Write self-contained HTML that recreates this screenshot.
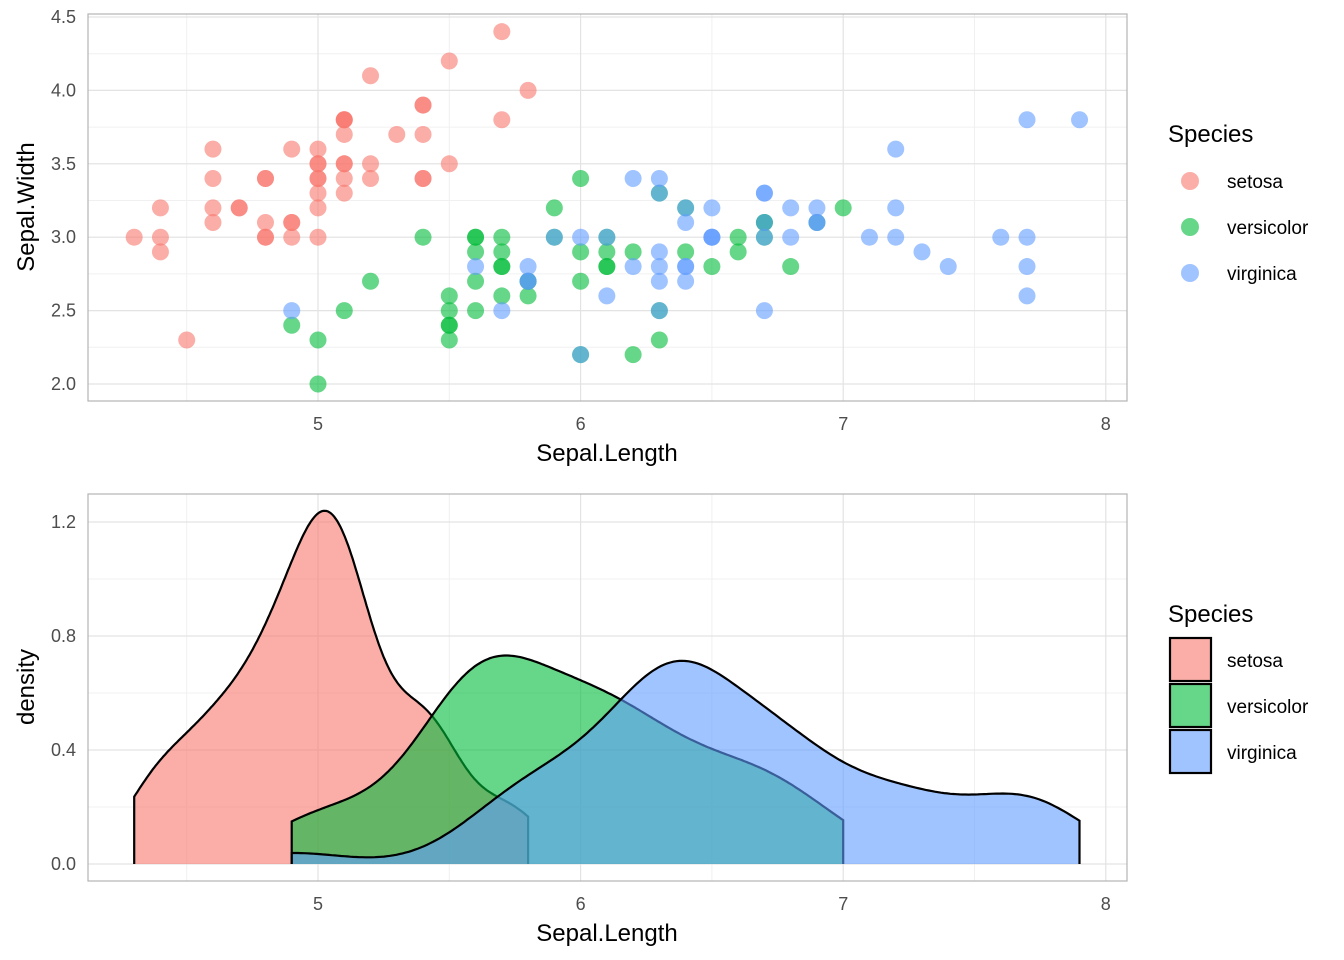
<!DOCTYPE html>
<html><head><meta charset="utf-8">
<style>
html,body{margin:0;padding:0;background:#fff;}
svg{display:block;font-family:"Liberation Sans",sans-serif;}
</style></head>
<body>
<svg id="chart" width="1344" height="960" viewBox="0 0 1344 960"></svg>
<script>
const species = ["setosa","versicolor","virginica"];
const colors = ["#F8766D","#00BA38","#619CFF"];
const setosaLength = [5.1,4.9,4.7,4.6,5.0,5.4,4.6,5.0,4.4,4.9,5.4,4.8,4.8,4.3,5.8,5.7,5.4,5.1,5.7,5.1,5.4,5.1,4.6,5.1,4.8,5.0,5.0,5.2,5.2,4.7,4.8,5.4,5.2,5.5,4.9,5.0,5.5,4.9,4.4,5.1,5.0,4.5,4.4,5.0,5.1,4.8,5.1,4.6,5.3,5.0];
const setosaWidth = [3.5,3.0,3.2,3.1,3.6,3.9,3.4,3.4,2.9,3.1,3.7,3.4,3.0,3.0,4.0,4.4,3.9,3.5,3.8,3.8,3.4,3.7,3.6,3.3,3.4,3.0,3.4,3.5,3.4,3.2,3.1,3.4,4.1,4.2,3.1,3.2,3.5,3.6,3.0,3.4,3.5,2.3,3.2,3.5,3.8,3.0,3.8,3.2,3.7,3.3];
const versicolorLength = [7.0,6.4,6.9,5.5,6.5,5.7,6.3,4.9,6.6,5.2,5.0,5.9,6.0,6.1,5.6,6.7,5.6,5.8,6.2,5.6,5.9,6.1,6.3,6.1,6.4,6.6,6.8,6.7,6.0,5.7,5.5,5.5,5.8,6.0,5.4,6.0,6.7,6.3,5.6,5.5,5.5,6.1,5.8,5.0,5.6,5.7,5.7,6.2,5.1,5.7];
const versicolorWidth = [3.2,3.2,3.1,2.3,2.8,2.8,3.3,2.4,2.9,2.7,2.0,3.0,2.2,2.9,2.9,3.1,3.0,2.7,2.2,2.5,3.2,2.8,2.5,2.8,2.9,3.0,2.8,3.0,2.9,2.6,2.4,2.4,2.7,2.7,3.0,3.4,3.1,2.3,3.0,2.5,2.6,3.0,2.6,2.3,2.7,3.0,2.9,2.9,2.5,2.8];
const virginicaLength = [6.3,5.8,7.1,6.3,6.5,7.6,4.9,7.3,6.7,7.2,6.5,6.4,6.8,5.7,5.8,6.4,6.5,7.7,7.7,6.0,6.9,5.6,7.7,6.3,6.7,7.2,6.2,6.1,6.4,7.2,7.4,7.9,6.4,6.3,6.1,7.7,6.3,6.4,6.0,6.9,6.7,6.9,5.8,6.8,6.7,6.7,6.3,6.5,6.2,5.9];
const virginicaWidth = [3.3,2.7,3.0,2.9,3.0,3.0,2.5,2.9,2.5,3.6,3.2,2.7,3.0,2.5,2.8,3.2,3.0,3.8,2.6,2.2,3.2,2.8,2.8,2.7,3.3,3.2,2.8,3.0,2.8,3.0,2.8,3.8,2.8,2.8,2.6,3.0,3.4,3.1,3.0,3.1,3.1,3.1,2.7,3.2,3.3,3.0,2.5,3.0,3.4,3.0];
const xTicks = [5,6,7,8];
const yTicksTop = [2.0,2.5,3.0,3.5,4.0,4.5];
const yTicksBottom = [0.0,0.4,0.8,1.2];

const lengths = [setosaLength, versicolorLength, virginicaLength];
const widths = [setosaWidth, versicolorWidth, virginicaWidth];
const NS = "http://www.w3.org/2000/svg";
const svg = document.getElementById("chart");
function el(tag, attrs, parent){ const e=document.createElementNS(NS,tag); for(const k in attrs) e.setAttribute(k,attrs[k]); (parent||svg).appendChild(e); return e; }

const PL=88, PR=1127;
const xs = v => 318 + (v-5)*262.6;
const yTop = v => 384 - (v-2)*146.8;
const yBot = v => 864 - v*285;

function panel(top, bottom, yTicks, yScale, minorStep, yMin, yMax, title, axisTitleY, name){
  const g = el("g",{});
  
  
  // minor grid
  for(let v=4.5; v<=8.01; v+=1){ const x=xs(v); el("line",{x1:x,x2:x,y1:top,y2:bottom,stroke:"#f0f0f0","stroke-width":1},g); }
  for(let v=yMin; v<=yMax+1e-9; v+=minorStep){ const y=yScale(v); if(y>top&&y<bottom) el("line",{x1:PL,x2:PR,y1:y,y2:y,stroke:"#f0f0f0","stroke-width":1},g); }
  xTicks.forEach(v=>{ const x=xs(v); el("line",{x1:x,x2:x,y1:top,y2:bottom,stroke:"#e3e3e3","stroke-width":1.2},g);
    const t=el("text",{x:x,y:bottom+29,"text-anchor":"middle","font-size":18,fill:"#4d4d4d"},g); t.textContent=v;
      });
  yTicks.forEach(v=>{ const y=yScale(v); el("line",{x1:PL,x2:PR,y1:y,y2:y,stroke:"#e3e3e3","stroke-width":1.2},g);
    const t=el("text",{x:PL-12,y:y+6,"text-anchor":"end","font-size":18,fill:"#4d4d4d"},g); t.textContent=v.toFixed(1);
      });
  const xt=el("text",{x:607,y:bottom+60,"text-anchor":"middle","font-size":24,fill:"#000"},g); xt.textContent="Sepal.Length";
   
  const yt=el("text",{x:0,y:0,"text-anchor":"middle","font-size":24,fill:"#000",transform:`translate(34,${axisTitleY}) rotate(-90)`},g); yt.textContent=title;
   
  return g;
}

// Top scatter
panel(14,401,yTicksTop,yTop,0.25,2.0,4.5,"Sepal.Width",207,"scatter-panel");
species.forEach((s,i)=>{
  lengths[i].forEach((x,j)=>{
    const c=el("circle",{cx:xs(x),cy:yTop(widths[i][j]),r:8.5,fill:colors[i],"fill-opacity":0.6});
    
    
  });
});
el("rect",{x:PL,y:14,width:PR-PL,height:387,fill:"none",stroke:"#b3b3b3","stroke-width":1.2});

// Bottom density
panel(494,881,yTicksBottom,yBot,0.2,0,1.4,"density",687,"density-panel");
function quantile(a,p){ const s=[...a].sort((x,y)=>x-y); const h=(s.length-1)*p; const lo=Math.floor(h); return s[lo]+(h-lo)*((s[lo+1]??s[lo])-s[lo]); }
function bwNrd0(a){ const n=a.length; const m=a.reduce((x,y)=>x+y)/n; const sd=Math.sqrt(a.reduce((x,y)=>x+(y-m)**2,0)/(n-1)); const iqr=quantile(a,0.75)-quantile(a,0.25); return 0.9*Math.min(sd,iqr/1.34)*Math.pow(n,-0.2); }
species.forEach((s,i)=>{
  const a=lengths[i]; const bw=bwNrd0(a); const lo=Math.min(...a), hi=Math.max(...a);
  const pts=[];
  for(let k=0;k<=256;k++){ const x=lo+(hi-lo)*k/256; let d=0; a.forEach(v=>{ const z=(x-v)/bw; d+=Math.exp(-0.5*z*z); }); d/=a.length*bw*Math.sqrt(2*Math.PI); pts.push([xs(x),yBot(d)]); }
  const line=pts.map((p,k)=>(k?"L":"M")+p[0].toFixed(1)+","+p[1].toFixed(1)).join("");
  const area=line+`L${xs(hi).toFixed(1)},${yBot(0)}L${xs(lo).toFixed(1)},${yBot(0)}Z`;
  const p=el("path",{d:area,fill:colors[i],"fill-opacity":0.6,stroke:"none"});
   
  const l=el("path",{d:`M${xs(lo).toFixed(1)},${yBot(0)}`+line.replace(/^M/,"L")+`L${xs(hi).toFixed(1)},${yBot(0)}`,fill:"none",stroke:"#000","stroke-width":2.2});
   
});
el("rect",{x:PL,y:494,width:PR-PL,height:387,fill:"none",stroke:"#b3b3b3","stroke-width":1.2});

// Legends
function legend(titleY, firstY, boxes, name){
  const g=el("g",{});  
  const t=el("text",{x:1168,y:titleY,"font-size":24,fill:"#000"},g); t.textContent="Species";
   
  species.forEach((s,i)=>{
    const cy=firstY+i*46;
    const e = boxes ? el("rect",{x:1170,y:cy-22,width:41,height:43,fill:colors[i],"fill-opacity":0.6,stroke:"#000","stroke-width":2.2},g)
                    : el("circle",{cx:1190,cy:cy,r:9,fill:colors[i],"fill-opacity":0.6},g);
     
    const tx=el("text",{x:1227,y:cy+7,"font-size":19,fill:"#000"},g); tx.textContent=s;
     
  });
}
legend(142,181,false,"scatter-legend");
legend(622,660,true,"density-legend");
</script>
</body></html>
